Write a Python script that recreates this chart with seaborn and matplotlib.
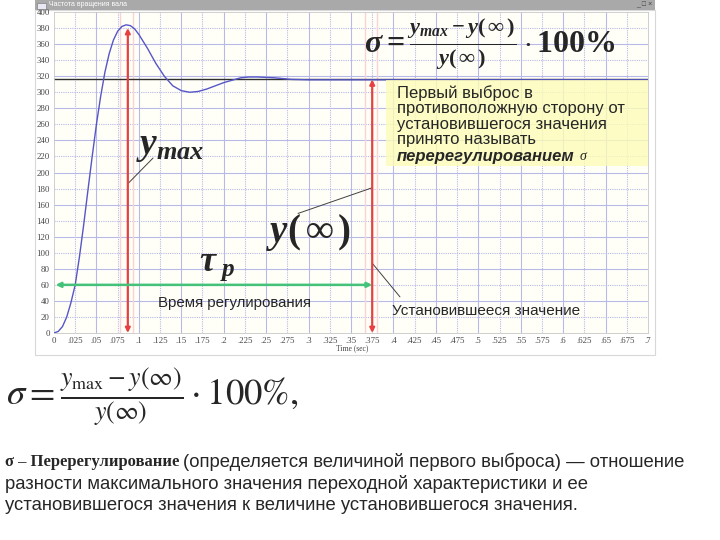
import numpy as np
import seaborn as sns
import matplotlib.pyplot as plt
from matplotlib.patches import Rectangle

sns.set_style("white")
plt.rcParams['font.family'] = ['Liberation Sans', 'DejaVu Sans']
plt.rcParams['mathtext.fontset'] = 'custom'
plt.rcParams['mathtext.rm'] = 'Liberation Serif:bold'
plt.rcParams['mathtext.it'] = 'Liberation Serif:italic:bold'
plt.rcParams['mathtext.bf'] = 'Liberation Serif:bold'

# transient response (shaft speed)
time = [0, 0.005, 0.01, 0.015, 0.02, 0.025, 0.03, 0.035, 0.04, 0.045, 0.05,
        0.055, 0.06, 0.065, 0.07, 0.075, 0.08, 0.085, 0.09, 0.095, 0.1,
        0.11, 0.12, 0.13, 0.14, 0.15, 0.16, 0.17, 0.18, 0.19, 0.2,
        0.21, 0.22, 0.23, 0.24, 0.25, 0.26, 0.27, 0.28, 0.3, 0.35, 0.4,
        0.5, 0.6, 0.7]
speed = [0, 2, 8, 20, 38, 60, 95, 135, 178, 220, 260,
         295, 325, 348, 365, 376, 382, 384, 383, 379, 372,
         355, 336, 320, 308, 302, 300, 301, 304, 308, 312,
         315, 318, 319, 319, 318.5, 318, 317, 316, 315.5, 315.5, 315.5,
         315.5, 315.5, 315.5]

y_max = 383      # first peak
y_inf = 316      # steady state
t_peak = 0.087
t_reg = 0.375    # settling time
band = 60        # level of the settling-time arrow

x_ticks = np.arange(0, 0.7001, 0.025)
y_ticks = np.arange(0, 401, 20)
x_labels = ['0' if v == 0 else f"{v:.3f}".rstrip('0').lstrip('0') for v in x_ticks]

fig = plt.figure(figsize=(7.2, 5.4), dpi=100)


def fx(px):
    return px / 720


def fy(py):
    return 1 - py / 540


# window frame + title bar
fig.add_artist(Rectangle((fx(35), fy(355)), fx(620), 345 / 540, transform=fig.transFigure,
                         facecolor='white', edgecolor='#d8d8d8', lw=0.8, zorder=-2))
fig.add_artist(Rectangle((fx(35), fy(10)), fx(620), 10 / 540, transform=fig.transFigure,
                         facecolor='#a9a9a9', edgecolor='none', zorder=-1))
fig.add_artist(Rectangle((fx(37), fy(8.5)), fx(9), 6 / 540, transform=fig.transFigure,
                         facecolor='#e8e8f4', edgecolor='#707070', lw=0.4))
fig.text(fx(49), fy(5), 'Частота вращения вала', fontsize=5, color='white', va='center')
fig.text(fx(652), fy(5), '_ □ ×', fontsize=5, color='#404040', va='center', ha='right')

ax = fig.add_axes([fx(54), fy(333), 594 / 720, 321 / 540])
ax.set_facecolor('#fffff8')

# grid: solid every 0.05 / 40, dotted in between
grid_c = '#b9b9e8'
for v in np.arange(0.05, 0.7, 0.05):
    ax.axvline(v, color=grid_c, lw=0.8, zorder=0)
for v in np.arange(0.025, 0.7, 0.05):
    ax.axvline(v, color=grid_c, lw=0.8, ls=(0, (1, 1)), zorder=0)
for v in np.arange(40, 400, 40):
    ax.axhline(v, color=grid_c, lw=0.8, zorder=0)
for v in np.arange(20, 400, 40):
    ax.axhline(v, color=grid_c, lw=0.8, ls=(0, (1, 1)), zorder=0)

ax.axhline(y_inf, color='#303030', lw=1, zorder=2)

sns.lineplot(x=time, y=speed, ax=ax, color='#5656c8', lw=1, zorder=3)

# pink halos + red double arrows
for t in (t_peak, t_reg):
    ax.axvline(t - 0.009, color='#f8d4d4', lw=1, zorder=1)
    ax.axvline(t + 0.006, color='#f8d4d4', lw=1, zorder=1)
arrow_red = dict(arrowstyle='<|-|>', color='#e84040', lw=1.6,
                 mutation_scale=7, shrinkA=0, shrinkB=0)
ax.annotate('', xy=(t_peak, y_max - 3), xytext=(t_peak, 0), arrowprops=arrow_red, zorder=4)
ax.annotate('', xy=(t_reg, y_inf), xytext=(t_reg, 0), arrowprops=arrow_red, zorder=4)
ax.annotate('', xy=(0.002, band), xytext=(t_reg, band),
            arrowprops=dict(arrowstyle='<|-|>', color='#45c27a', lw=1.8,
                            mutation_scale=7, shrinkA=0, shrinkB=0), zorder=4)

ax.set_xlim(0, 0.7)
ax.set_ylim(0, 400)
ax.set_xticks(x_ticks, x_labels)
ax.set_yticks(y_ticks)
ax.tick_params(length=0, labelsize=6.3, labelcolor='#444444', pad=3)
for lab in ax.get_xticklabels() + ax.get_yticklabels():
    lab.set_family('Liberation Serif')
for s in ax.spines.values():
    s.set_color('#c8c8c8')
    s.set_linewidth(0.6)
fig.text(fx(336), fy(348), 'Time (sec)', fontsize=5.5, color='#444444',
         family='Liberation Serif', ha='left', va='center')

# annotations on the chart
line_kw = dict(arrowstyle='-', color='#404040', lw=0.7, shrinkA=0, shrinkB=0)
ax.text(0.137, 233, r'$y_{max}$', fontsize=27, ha='center', va='center', zorder=5)
ax.annotate('', xy=(t_peak, 186), xytext=(0.1167, 218), arrowprops=line_kw)
ax.text(0.300, 125, r'$y(\,\infty\,)$', fontsize=28, ha='center', va='center', zorder=5)
ax.annotate('', xy=(t_reg, 181), xytext=(0.2876, 149), arrowprops=line_kw)
ax.text(0.192, 84, r'$\tau_{\ p}$', fontsize=26, ha='center', va='center', zorder=5)
ax.text(0.213, 38, 'Время регулирования', fontsize=10.8, ha='center', va='center', zorder=5)
ax.text(0.398, 27, 'Установившееся значение', fontsize=11, ha='left', va='center', zorder=5)
ax.annotate('', xy=(t_reg, 87), xytext=(0.4077, 45), arrowprops=line_kw)

# top formula
fig.text(fx(490), fy(44), r'$\sigma = \frac{y_{max} - y(\,\infty\,)}{y(\,\infty\,)}\cdot\mathit{100\%}$',
         fontsize=23, ha='center', va='center', math_fontfamily='custom', zorder=6)

# yellow note
fig.add_artist(Rectangle((fx(386), fy(166)), fx(262), 86 / 540, transform=fig.transFigure,
                         facecolor='#fcfcb8', alpha=0.8, edgecolor='none', zorder=5))
note = ['Первый выброс в', 'противоположную сторону от',
        'установившегося значения', 'принято называть']
for i, line in enumerate(note):
    fig.text(fx(397), fy(93 + 15.6 * i), line, fontsize=12, va='center', zorder=6)
t_b = fig.text(fx(397), fy(156), 'перерегулированием', fontsize=12, va='center',
               weight='bold', style='italic', zorder=6)
renderer = fig.canvas.get_renderer()
bb = t_b.get_window_extent(renderer)
fig.text((bb.x1 + 5) / 720, fy(157), 'σ', fontsize=10, va='center', family='Liberation Serif',
         style='italic', zorder=6)

# formula below the chart
fig.text(fx(152), fy(398), r'$\sigma = \frac{y_{\max} - y(\infty)}{y(\infty)} \cdot 100\%,$',
         fontsize=26.5, ha='center', va='center', math_fontfamily='stix')

# paragraph
t1 = fig.text(fx(5), fy(462), 'σ – Перерегулирование', family='Liberation Serif',
              weight='bold', fontsize=12, va='center')
bb = t1.get_window_extent(renderer)
para = ['(определяется величиной первого выброса) — отношение',
        'разности максимального значения переходной характеристики и ее',
        'установившегося значения к величине установившегося значения.']
fig.text((bb.x1 + 4) / 720, fy(462), para[0], fontsize=13.3, va='center')
fig.text(fx(5), fy(484), para[1], fontsize=13.3, va='center')
fig.text(fx(5), fy(505), para[2], fontsize=13.3, va='center')

fig.savefig('out.png', dpi=100)
